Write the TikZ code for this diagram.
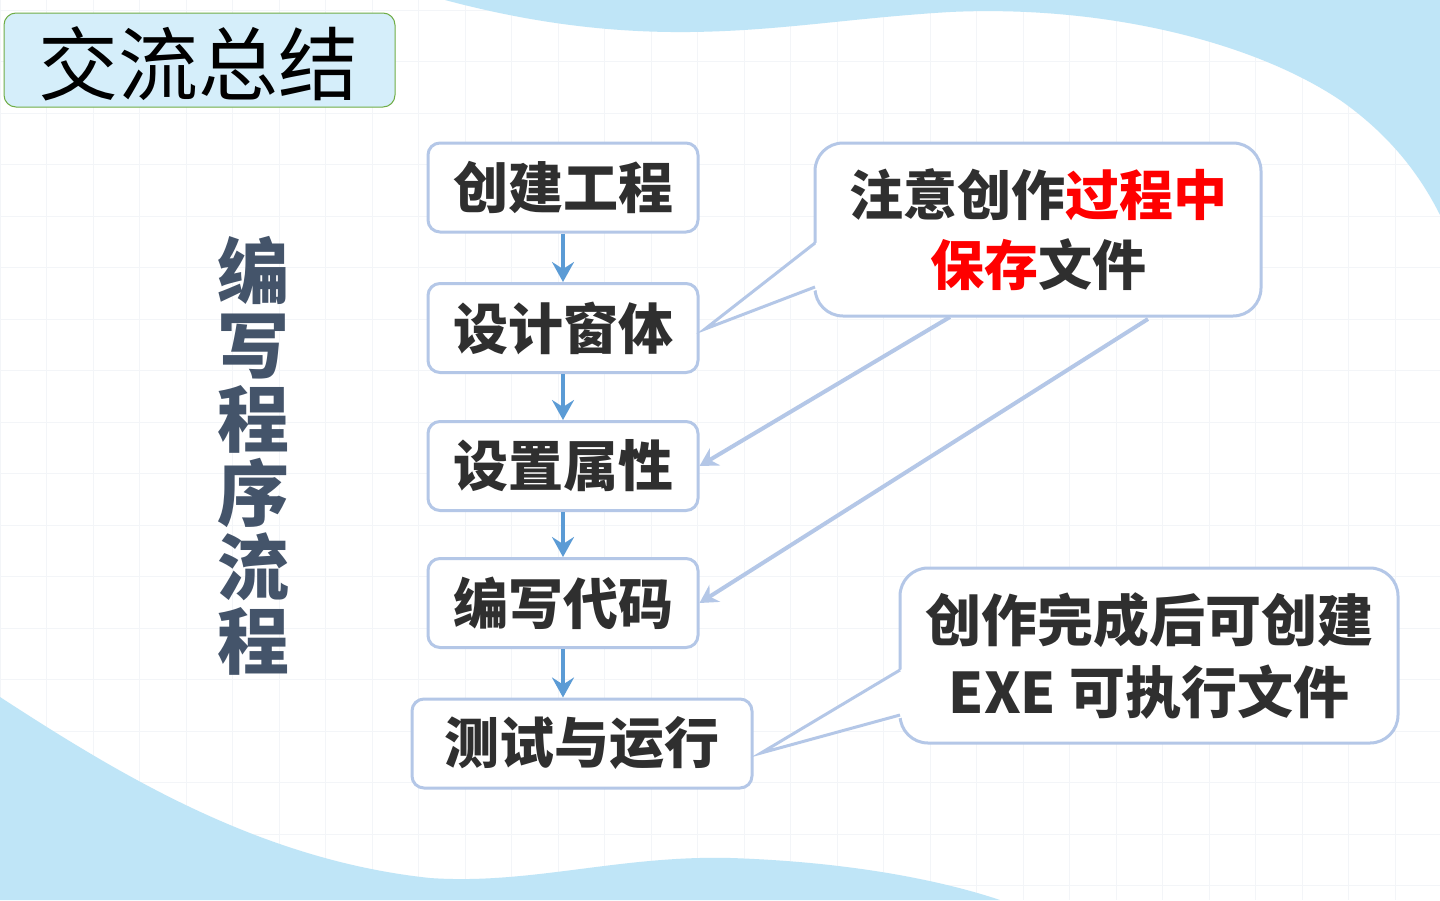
\documentclass[tikz,border=0pt]{standalone}
\usepackage{fontspec}
\setmainfont{Noto Sans CJK SC}
\usetikzlibrary{arrows.meta,calc}
\definecolor{skyblue}{HTML}{BFE5F7}
\definecolor{gridc}{HTML}{F3F5F8}
\definecolor{boxline}{HTML}{B4C7E7}
\definecolor{flowarrow}{HTML}{5B9BD5}
\definecolor{txt}{HTML}{2F2F2F}
\definecolor{vtxt}{HTML}{44546A}
\definecolor{titlefill}{HTML}{D5EEFA}
\definecolor{titleline}{HTML}{70AD47}
\definecolor{hired}{HTML}{FF0000}
\tikzset{
  flowbox/.style={draw=boxline, line width=3pt, fill=white, rounded corners=12pt,
    inner sep=0pt, minimum height=89pt, text=txt,
    font=\fontsize{55pt}{66pt}\selectfont\bfseries},
  callbox/.style={draw=boxline, line width=3pt, fill=white, rounded corners=28pt,
    inner sep=0pt, align=center, text=txt},
  flowarr/.style={draw=flowarrow, line width=4pt,
    -{Stealth[length=20pt,width=22pt,inset=7pt]}},
  callarr/.style={draw=boxline, line width=4pt,
    -{Stealth[length=18pt,width=20pt,inset=6pt]}},
  tail/.style={draw=boxline, line width=3pt, line join=miter},
}
\begin{document}
\begin{tikzpicture}[x=1pt,y=-1pt]
\useasboundingbox (0,0) rectangle (1440,900);
\fill[white] (0,0) rectangle (1440,900);
% grid
\foreach \i in {0,...,31} \draw[gridc, line width=1pt] (\i*46.5,0) -- (\i*46.5,900);
\foreach \j in {0,...,17} \draw[gridc, line width=1pt] (0,10+\j*51.5) -- (1440,10+\j*51.5);
% blue washes
\fill[skyblue] (445,0) .. controls (520,20) and (600,33) .. (690,32)
  .. controls (780,31) and (850,18) .. (950,12)
  .. controls (1100,5) and (1250,40) .. (1340,100)
  .. controls (1390,135) and (1420,175) .. (1440,215) -- (1440,0) -- cycle;
\fill[skyblue] (0,697) .. controls (120,775) and (260,860) .. (430,878)
  .. controls (530,885) and (620,855) .. (731,858)
  .. controls (850,862) and (940,880) .. (1000,900) -- (0,900) -- cycle;
% title
\node[draw=titleline, line width=1pt, fill=titlefill, rounded corners=12pt,
  minimum width=391pt, minimum height=94pt, inner sep=0pt] (title) at (199.5,60) {};
\node[font=\fontsize{80pt}{80pt}\selectfont, text=black, inner sep=0pt] (titletext) at (198,64) {交流总结};
% vertical label
\node[font=\fontsize{72pt}{74pt}\selectfont\bfseries, text=vtxt, align=center, inner sep=0pt] (vlabel) at (253,456)
  {编\\写\\程\\序\\流\\程};
% flow boxes
\node[flowbox, minimum width=270pt] (b1) at (563,187.5) {创建工程};
\node[flowbox, minimum width=270pt] (b2) at (563,328) {设计窗体};
\node[flowbox, minimum width=270pt] (b3) at (563,466) {设置属性};
\node[flowbox, minimum width=270pt] (b4) at (563,603) {编写代码};
\node[flowbox, minimum width=340pt] (b5) at (582,743.5) {测试与运行};
\draw[flowarr] (b1.south) -- (b2.north);
\draw[flowarr] (b2.south) -- (b3.north);
\draw[flowarr] (b3.south) -- (b4.north);
\draw[flowarr] (b4.south) -- (b4.south |- b5.north);
% callout 1
\node[callbox, minimum width=446pt, minimum height=173pt,
  font=\fontsize{54pt}{70pt}\selectfont\bfseries] (c1) at (1038,229.5)
  {注意创作\textcolor{hired}{过程中}\\\textcolor{hired}{保存}文件};
\coordinate (t1a) at (815,243);
\coordinate (t1b) at (815,287);
\coordinate (t1tip) at (705,329);
\fill[white] (819,241) -- (t1tip) -- (819,289) -- cycle;
\draw[tail] (t1a) -- (t1tip) -- (t1b);
% callout 2
\node[callbox, minimum width=498pt, minimum height=175pt,
  font=\fontsize{56pt}{72pt}\selectfont\bfseries] (c2) at (1149,655.5)
  {创作完成后可创建\\EXE 可执行文件};
\coordinate (t2a) at (900,670);
\coordinate (t2b) at (900,715);
\coordinate (t2tip) at (761,753);
\fill[white] (904,668) -- (t2tip) -- (904,717) -- cycle;
\draw[tail] (t2a) -- (t2tip) -- (t2b);
% connectors from callout 1
\coordinate (c1s1) at (950,317);
\coordinate (c1s2) at (1148,319);
\draw[callarr] (c1s1) -- (b3.east);
\draw[callarr] (c1s2) -- (b4.east);
\end{tikzpicture}
\end{document}
